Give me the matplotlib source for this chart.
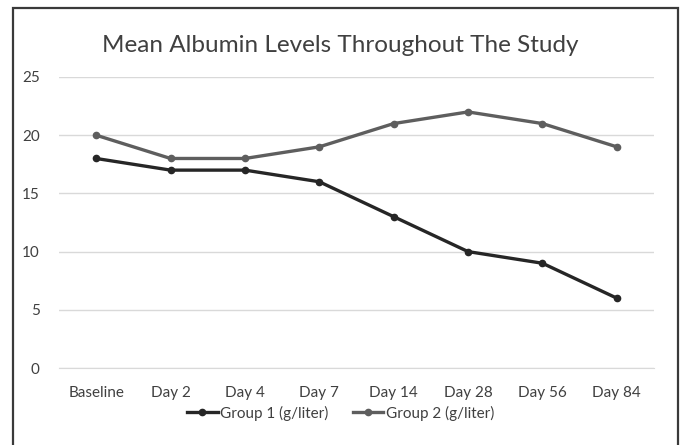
import matplotlib
matplotlib.use("Agg")
import matplotlib.pyplot as plt
from matplotlib.patches import Rectangle

categories = ["Baseline", "Day 2", "Day 4", "Day 7", "Day 14", "Day 28", "Day 56", "Day 84"]
group1 = [18, 17, 17, 16, 13, 10, 9, 6]
group2 = [20, 18, 18, 19, 21, 22, 21, 19]
yticks = [0, 5, 10, 15, 20, 25]

plt.rcParams["font.family"] = ["Lato", "DejaVu Sans"]

fig = plt.figure(figsize=(6.81, 4.45), dpi=100)
ax = fig.add_axes([59 / 681, 1 - 368 / 445, (654 - 59) / 681, (368 - 77) / 445])

x = list(range(len(categories)))
ax.plot(x, group1, color="#262626", lw=2.4, marker="o", ms=4.5, label="Group 1 (g/liter)")
ax.plot(x, group2, color="#5e5e5e", lw=2.4, marker="o", ms=4.5, label="Group 2 (g/liter)")

ax.set_xlim(-0.5, len(categories) - 0.5)
ax.set_ylim(0, 25)
ax.set_yticks(yticks)
ax.set_xticks(x)
ax.set_xticklabels(categories)
ax.grid(axis="y", color="#d9d9d9", lw=1)
ax.set_axisbelow(True)
for s in ax.spines.values():
    s.set_visible(False)
ax.spines["bottom"].set_visible(True)
ax.spines["bottom"].set_color("#d9d9d9")
ax.tick_params(axis="both", length=0, labelsize=11, labelcolor="#404040")
ax.tick_params(axis="x", pad=13)
ax.tick_params(axis="y", pad=14)

fig.text(0.5, 1 - 45 / 445, "Mean Albumin Levels Throughout The Study",
         ha="center", va="center", fontsize=17.5, color="#404040")

fig.legend(loc="center", bbox_to_anchor=(0.5, 1 - 413 / 445), ncol=2, frameon=False,
           fontsize=11, labelcolor="#404040", handlelength=2.0, handletextpad=0.15,
           columnspacing=1.6)

# outer frame
fig.patches.append(Rectangle((13 / 681, -0.05), (678 - 13) / 681, 1.05 - 8 / 445,
                             transform=fig.transFigure, fill=False,
                             edgecolor="#3a3a3a", lw=1.6))

fig.savefig("out.png", dpi=100)
